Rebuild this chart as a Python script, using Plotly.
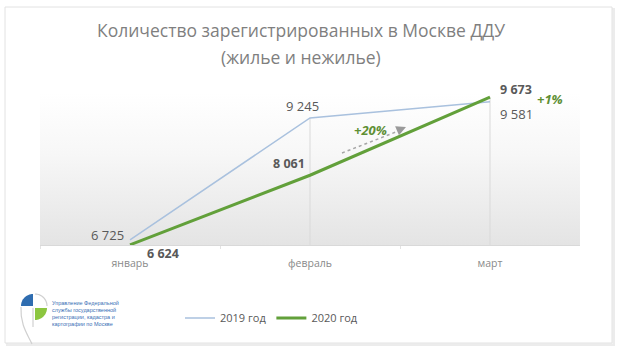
import math
import plotly.graph_objects as go

# ---- data ----
months = ["январь", "февраль", "март"]
series_2019 = [6725, 9245, 9581]
series_2020 = [6624, 8061, 9673]
series_names = ["2019 год", "2020 год"]
growth_labels = ["+20%", "+1%"]
title_lines = ["Количество зарегистрированных в Москве ДДУ", "(жилье и нежилье)"]
logo_text = "Управление Федеральной<br>службы государственной<br>регистрации, кадастра и<br>картографии по Москве"

W, H = 620, 353
def px(x):
    return x / W
def py(y):
    return 1 - y / H

C19 = "#a9c1de"
C20 = "#62a03a"
GREEN_TXT = "#5e8f34"
LBL = "#595959"
FONT = "Open Sans"

y_min, y_max = 6620, 9760
plot_l, plot_r, plot_t, plot_b = 40, 580, 93, 245

fig = go.Figure()

# gradient background of plot area (main axes, numeric 0..1)
fig.add_trace(go.Scatter(
    x=[0, 1, 1, 0, 0], y=[0, 0, 1, 1, 0], mode="lines", fill="toself",
    line=dict(width=0, color="rgba(0,0,0,0)"),
    fillgradient=dict(type="vertical", colorscale=[[0, "#e4e4e4"], [0.6, "#f7f7f7"], [1, "#ffffff"]]),
    hoverinfo="skip", showlegend=False, xaxis="x", yaxis="y"))

# drop lines from baseline to highest value of each month (except first)
dx, dy = [], []
for i, m in enumerate(months):
    if i == 0:
        continue
    dx += [m, m, None]
    dy += [y_min, max(series_2019[i], series_2020[i]), None]
fig.add_trace(go.Scatter(x=dx, y=dy, mode="lines", line=dict(color="#d9d9d9", width=1),
                         hoverinfo="skip", showlegend=False, xaxis="x2", yaxis="y2"))

fig.add_trace(go.Scatter(x=months, y=series_2019, mode="lines", name=series_names[0],
                         line=dict(color=C19, width=1.5), xaxis="x2", yaxis="y2", cliponaxis=False))
fig.add_trace(go.Scatter(x=months, y=series_2020, mode="lines", name=series_names[1],
                         line=dict(color=C20, width=3), xaxis="x2", yaxis="y2", cliponaxis=False))

def fmt(v):
    return f"{v:,}".replace(",", " ")

ann = []
shifts19 = [("right", -4, 5), ("center", -8, 12), ("left", 8, -12)]
for m, v, (xa, xs, ys) in zip(months, series_2019, shifts19):
    ann.append(dict(x=m, y=v, xref="x2", yref="y2", text=fmt(v), showarrow=False,
                    xanchor=xa, yanchor="middle", xshift=xs, yshift=ys,
                    font=dict(family=FONT, size=13, color=LBL)))
shifts20 = [("left", 15, -9), ("center", -21, 12), ("left", 8, 8)]
for m, v, (xa, xs, ys) in zip(months, series_2020, shifts20):
    ann.append(dict(x=m, y=v, xref="x2", yref="y2", text="<b>" + fmt(v) + "</b>", showarrow=False,
                    xanchor=xa, yanchor="middle", xshift=xs, yshift=ys,
                    font=dict(family=FONT, size=12.5, color=LBL)))

def pann(x, y, text, size, color, family=FONT, xanchor="center", align="center"):
    return dict(x=px(x), y=py(y), xref="paper", yref="paper", text=text, showarrow=False,
                xanchor=xanchor, yanchor="middle", align=align,
                font=dict(family=family, size=size, color=color))

ann.append(pann(370, 130, "<b><i>" + growth_labels[0] + "</i></b>", 13, GREEN_TXT))
ann.append(pann(550, 99, "<b><i>" + growth_labels[1] + "</i></b>", 13, GREEN_TXT))
ann.append(pann(301, 30, title_lines[0], 17.5, "#7f7f7f"))
ann.append(pann(301, 57, title_lines[1], 17.5, "#7f7f7f"))
ann.append(pann(50, 313, logo_text, 5.5, "#3a6fb5", family="Liberation Sans", xanchor="left", align="left"))

# arrow head for the dashed arrow
ann.append(dict(x=px(406), y=py(127), xref="paper", yref="paper", text="", showarrow=True,
                ax=-7, ay=3, axref="pixel", ayref="pixel", arrowhead=2, arrowsize=1.3,
                arrowwidth=1.5, arrowcolor="#9a9a9a"))

shapes = []
shapes.append(dict(type="rect", xref="paper", yref="paper", x0=px(7), x1=px(614), y0=py(345), y1=py(9),
                   line=dict(color="#ececec", width=2), fillcolor="#f2f2f2", layer="below"))
shapes.append(dict(type="rect", xref="paper", yref="paper", x0=px(5), x1=px(612), y0=py(343), y1=py(7),
                   line=dict(color="#e2e2e2", width=1), fillcolor="white", layer="below"))

shapes.append(dict(type="line", xref="paper", yref="paper", x0=px(342), y0=py(153), x1=px(401), y1=py(130),
                   line=dict(color="#a6a6a6", width=1.5, dash="3px,3px"), layer="above"))

def arc_path(cx, cy, r, a0, a1, n=16, close_center=True):
    pts = []
    for k in range(n + 1):
        a = math.radians(a0 + (a1 - a0) * k / n)
        pts.append((cx + r * math.cos(a), cy - r * math.sin(a)))
    if close_center:
        s = f"M{px(cx)},{py(cy)} "
        for (x, y) in pts:
            s += f"L{px(x)},{py(y)} "
        s += "Z"
    else:
        s = f"M{px(pts[0][0])},{py(pts[0][1])} "
        for (x, y) in pts[1:]:
            s += f"L{px(x)},{py(y)} "
    return s

cx, cy, r = 34, 307, 12
shapes.append(dict(type="path", xref="paper", yref="paper", path=arc_path(cx - 1, cy - 1, r, 90, 180),
                   fillcolor="#2f6db0", line=dict(width=0)))
shapes.append(dict(type="path", xref="paper", yref="paper", path=arc_path(cx + 1, cy + 1, r, 270, 360),
                   fillcolor="#8cc63f", line=dict(width=0)))
shapes.append(dict(type="path", xref="paper", yref="paper", path=arc_path(cx + 1, cy - 1, r, 0, 90, close_center=False),
                   line=dict(color="#d0d0d0", width=1.2)))
shapes.append(dict(type="path", xref="paper", yref="paper",
                   path=f"M{px(cx - 1 - r)},{py(cy)} C{px(cx - 14)},{py(cy + 18)} {px(cx - 6)},{py(cy + 28)} {px(cx - 2)},{py(cy + 37)}",
                   line=dict(color="#d0d0d0", width=1.2)))
shapes.append(dict(type="line", xref="paper", yref="paper", x0=px(cx - 1), x1=px(cx - 1), y0=py(cy + 1), y1=py(cy + 20),
                   line=dict(color="#d0d0d0", width=1.2)))

dom_x = [px(plot_l), px(plot_r)]
dom_y = [py(plot_b), py(plot_t)]

fig.update_layout(
    width=W, height=H, margin=dict(l=0, r=0, t=0, b=0, autoexpand=False),
    paper_bgcolor="white", plot_bgcolor="rgba(0,0,0,0)",
    xaxis=dict(domain=dom_x, range=[0, 1], visible=False, fixedrange=True),
    yaxis=dict(domain=dom_y, range=[0, 1], visible=False, fixedrange=True),
    xaxis2=dict(domain=dom_x, overlaying="x", anchor="y2", type="category", categoryorder="array",
                categoryarray=months, range=[-0.5, 2.5], showgrid=False, zeroline=False,
                showline=True, linecolor="#d9d9d9", linewidth=1,
                ticks="outside", tickson="boundaries", ticklen=3, tickcolor="#e3e3e3",
                ticklabelstandoff=8,
                tickfont=dict(family=FONT, size=10.5, color="#8a8a8a"), side="bottom"),
    yaxis2=dict(domain=dom_y, overlaying="y", anchor="x2", range=[y_min, y_max], visible=False),
    showlegend=True,
    legend=dict(orientation="h", x=px(180), y=py(318), xanchor="left", yanchor="middle",
                font=dict(family=FONT, size=11, color=LBL), bgcolor="rgba(0,0,0,0)",
                itemwidth=30, traceorder="normal"),
    annotations=ann, shapes=shapes,
)

fig.write_html("out.html")
